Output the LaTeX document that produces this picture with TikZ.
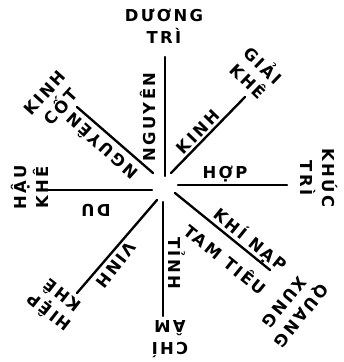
\documentclass[tikz,border=0pt]{standalone}
\usepackage{fontspec}
\setmainfont{DejaVu Sans}[LetterSpace=14]
\usetikzlibrary{positioning}

\begin{document}
\begin{tikzpicture}[
  x=0.03cm, y=-0.03cm,
  font=\fontsize{14}{18.5}\selectfont\bfseries,
  spoke/.style={line width=2pt, line cap=round},
  endlab/.style={align=center, inner sep=1pt},
  spokelab/.style={inner sep=1pt},
]
  \useasboundingbox (0,0) rectangle (344,362);

  % spokes
  \coordinate (hubN)  at (165,176);  \coordinate (endN)  at (165,57);
  \coordinate (hubNE) at (171,173);  \coordinate (endNE) at (245,97);
  \coordinate (hubE)  at (178,185);  \coordinate (endE)  at (287,185);
  \coordinate (hubSE) at (175,193);  \coordinate (endSE) at (270,270);
  \coordinate (hubS)  at (163,202);  \coordinate (endS)  at (163,316);
  \coordinate (hubSW) at (157,200);  \coordinate (endSW) at (77,293);
  \coordinate (hubW)  at (152,190);  \coordinate (endW)  at (48,190);
  \coordinate (hubNW) at (153,173);  \coordinate (endNW) at (77,107);

  \draw[spoke] (hubN) -- (endN);
  \draw[spoke] (hubNE) -- (endNE);
  \draw[spoke] (hubE) -- (endE);
  \draw[spoke] (hubSE) -- (endSE);
  \draw[spoke] (hubS) -- (endS);
  \draw[spoke] (hubSW) -- (endSW);
  \draw[spoke] (hubW) -- (endW);
  \draw[spoke] (hubNW) -- (endNW);

  % labels along the spokes
  \node[spokelab, rotate=90]   (nguyenN)  at (148,117) {NGUYÊN};
  \node[spokelab, rotate=46]   (kinhNE)   at (198,132) {KINH};
  \node[spokelab]              (hop)      at (225,174) {HỢP};
  \node[spokelab, rotate=-39]  (khinap)   at (250,240) {KHÍ NẠP};
  \node[spokelab, rotate=-39]  (tamtieu)  at (226,259) {TAM TIÊU};
  \node[spokelab, rotate=-90]  (tinh)     at (177,263) {TỈNH};
  \node[spokelab, rotate=-128] (vinh)     at (116,265) {VINH};
  \node[spokelab, rotate=180]  (du)       at (96,210)  {DU};
  \node[spokelab, rotate=138]  (nguyenNW) at (101,147) {NGUYÊN};

  % labels at the ends
  \node[endlab]               (duongtri) at (164,26)  {DƯƠNG\\TRÌ};
  \node[endlab, rotate=-44]   (giaikhe)  at (257,72)  {GIẢI\\KHÊ};
  \node[endlab, rotate=-90]   (khuctri)  at (319,178) {KHÚC\\TRÌ};
  \node[endlab, rotate=-129]  (quangxung) at (293,309) {QUANG\\XUNG};
  \node[endlab, rotate=180]   (chiam)    at (170,339) {CHÍ\\ÂM};
  \node[endlab, rotate=142]   (hiepkhe)  at (55,305)  {HIỆP\\KHÊ};
  \node[endlab, rotate=90]    (haukhe)   at (30,187)  {HẬU\\KHÊ};
  \node[endlab, rotate=48]    (kinhcot)  at (53,100)  {KINH\\CỐT};
\end{tikzpicture}
\end{document}
